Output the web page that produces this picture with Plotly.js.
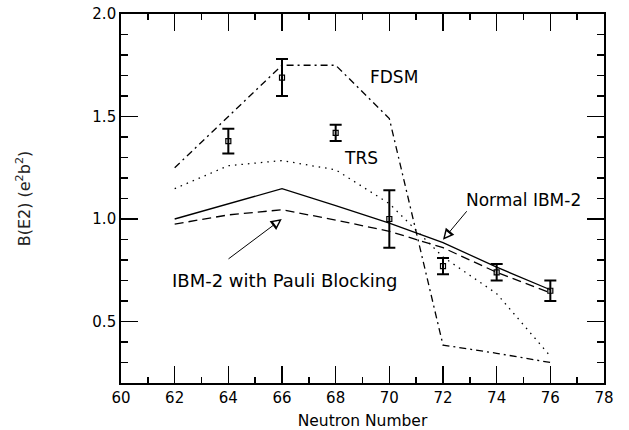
<!DOCTYPE html>
<html>
<head>
<meta charset="utf-8">
<script src="https://cdn.plot.ly/plotly-3.0.1.min.js"></script>
<style>html,body{margin:0;padding:0;background:#fff;}#chart{width:629px;height:430px;}</style>
</head>
<body>
<div id="chart"></div>
<script>
var neutronN = [62, 64, 66, 68, 70, 72, 74, 76];
var normalIBM2 = [1.0, 1.074, 1.148, 1.065, 0.98, 0.885, 0.765, 0.655];
var pauliIBM2 = [0.975, 1.02, 1.045, 0.995, 0.94, 0.86, 0.74, 0.64];
var trs = [1.148, 1.26, 1.285, 1.24, 1.075, 0.815, 0.636, 0.331];
var fdsm = [1.25, 1.50, 1.75, 1.75, 1.49, 0.385, 0.345, 0.30];

var expN = [64, 66, 68, 70, 72, 74, 76];
var expB = [1.38, 1.69, 1.42, 1.0, 0.77, 0.74, 0.65];
var expErr = [0.06, 0.09, 0.04, 0.14, 0.04, 0.04, 0.05];

var xTickVals = [60, 62, 64, 66, 68, 70, 72, 74, 76, 78];
var yTickVals = [0.5, 1.0, 1.5, 2.0];
var yTickText = ['0.5', '1.0', '1.5', '2.0'];

var FONT = 'DejaVu Sans, sans-serif';

var traces = [
  {x: neutronN, y: normalIBM2, mode: 'lines', line: {color: '#000', width: 1.3}, name: 'Normal IBM-2'},
  {x: neutronN, y: pauliIBM2, mode: 'lines', line: {color: '#000', width: 1.3, dash: '9px,5px'}, name: 'IBM-2 with Pauli Blocking'},
  {x: neutronN, y: trs, mode: 'lines', line: {color: '#000', width: 1.3, dash: '1.5px,5px'}, name: 'TRS'},
  {x: neutronN, y: fdsm, mode: 'lines', line: {color: '#000', width: 1.3, dash: '7px,4px,2px,4px'}, name: 'FDSM'},
  {x: expN, y: expB, mode: 'markers', name: 'exp',
   marker: {symbol: 'square-open', size: 5, color: '#000', line: {width: 1.2, color: '#000'}},
   error_y: {type: 'data', array: expErr, visible: true, color: '#000', thickness: 2, width: 6}}
];

var axisCommon = {
  showgrid: false, zeroline: false, showline: true, linecolor: '#000', linewidth: 1.8,
  mirror: 'ticks', ticks: 'inside', ticklen: 17, tickwidth: 1.6, tickcolor: '#000',
  tickfont: {family: FONT, size: 15, color: '#000'}
};

var layout = {
  width: 629, height: 430,
  margin: {l: 121, r: 25, t: 14, b: 47},
  paper_bgcolor: '#fff', plot_bgcolor: '#fff',
  showlegend: false,
  xaxis: Object.assign({}, axisCommon, {
    range: [60, 78], tickvals: xTickVals,
    minor: {dtick: 1, tick0: 60, ticks: 'inside', ticklen: 6, tickwidth: 1.4, tickcolor: '#000'},
    title: {text: 'Neutron Number', font: {family: FONT, size: 15.5, color: '#000'}, standoff: 9}
  }),
  yaxis: Object.assign({}, axisCommon, {
    range: [0.2, 2.0], tickvals: yTickVals, ticktext: yTickText,
    minor: {dtick: 0.1, tick0: 0.2, ticks: 'inside', ticklen: 7, tickwidth: 1.4, tickcolor: '#000'},
    title: {text: 'B(E2) (e<sup>2</sup>b<sup>2</sup>)', font: {family: FONT, size: 16, color: '#222'}, standoff: 58}
  })
};

// annotation positions in data coordinates
function px2x(p) { return 60 + (p - 121) / 26.83; }
function py2y(p) { return 1.0 - (p - 219.3) / 205.3; }
var labels = [
  {text: 'FDSM', x: px2x(394), y: py2y(77), size: 17},
  {text: 'TRS', x: px2x(361), y: py2y(158), size: 17},
  {text: 'Normal IBM-2', x: px2x(523.5), y: py2y(200), size: 17},
  {text: 'IBM-2 with Pauli Blocking', x: px2x(285), y: py2y(281), size: 18}
];
layout.annotations = labels.map(function (l) {
  return {x: l.x, y: l.y, xref: 'x', yref: 'y', text: l.text, showarrow: false,
          font: {family: FONT, size: l.size, color: '#000'}};
});

// arrows: black outer head + white inner head to make them look hollow
var arrows = [
  {hx: 72.0, hy: 0.899, tx: 72.93, ty: 1.045, dx: 25, dy: -30},
  {hx: 65.99, hy: 1.0, tx: 63.95, ty: 0.80, dx: -55, dy: 41}
];
arrows.forEach(function (a) {
  layout.annotations.push({x: a.hx, y: a.hy, ax: a.tx, ay: a.ty, xref: 'x', yref: 'y', axref: 'x', ayref: 'y',
    text: '', showarrow: true, arrowhead: 2, arrowsize: 2.2, arrowwidth: 1, arrowcolor: '#000'});
  var len = Math.sqrt(a.dx * a.dx + a.dy * a.dy);
  layout.annotations.push({x: a.hx, y: a.hy, ax: a.dx / len * 10, ay: a.dy / len * 10, xref: 'x', yref: 'y',
    text: '', showarrow: true, arrowhead: 2, arrowsize: 1.1, arrowwidth: 1, arrowcolor: '#fff', standoff: 3.2});
});

Plotly.newPlot('chart', traces, layout, {staticPlot: true, displayModeBar: false});
</script>
</body>
</html>
